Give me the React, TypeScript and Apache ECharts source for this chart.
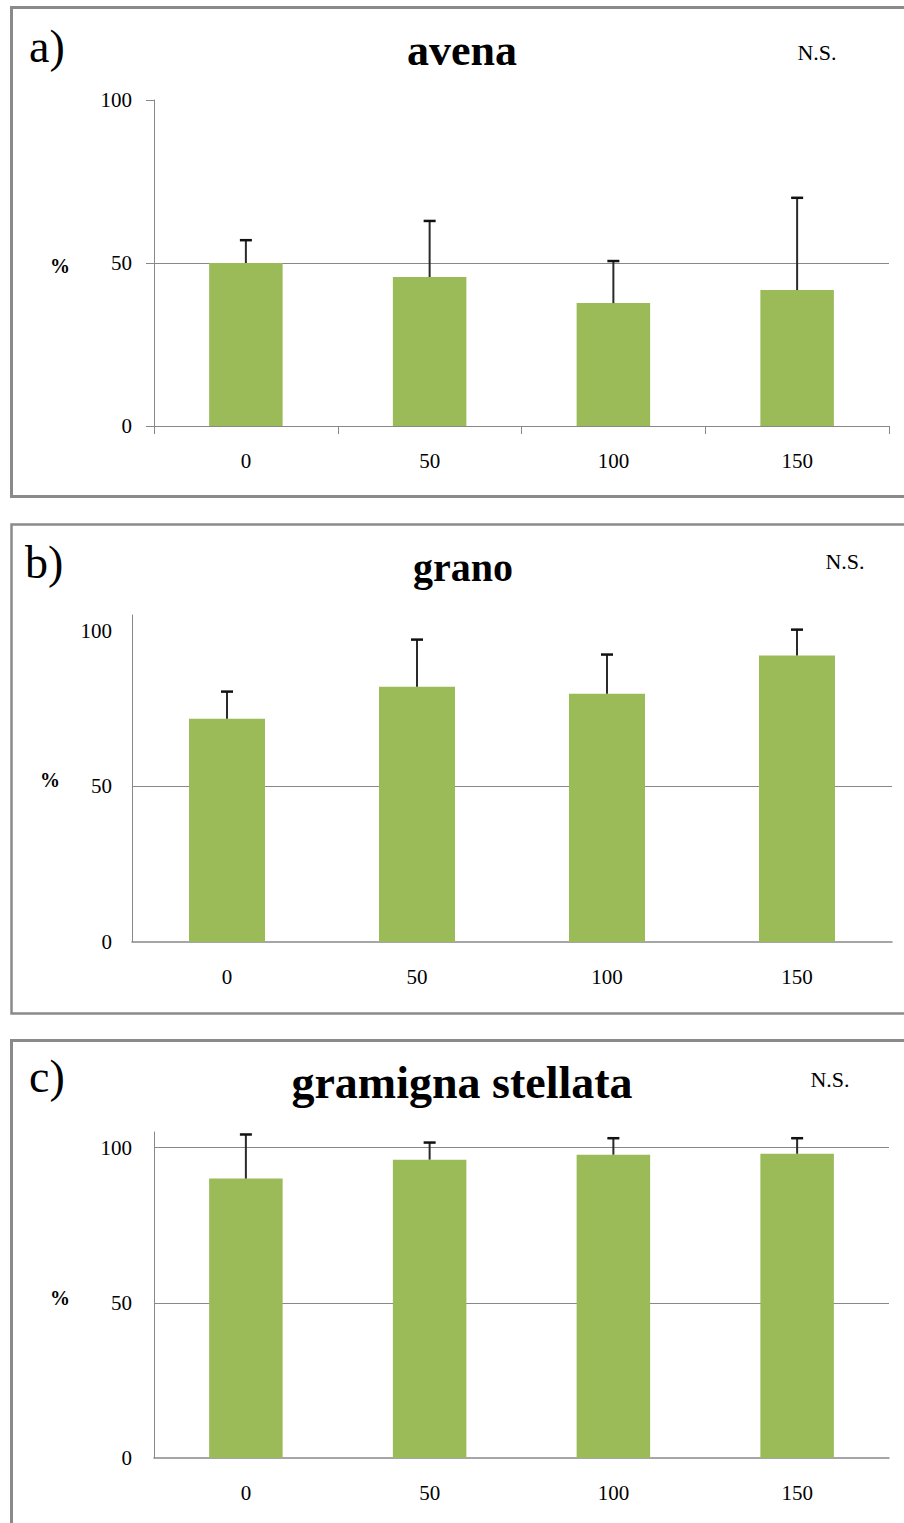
import React, { useEffect, useRef } from "react";
import * as echarts from "echarts";

const categories = ["0", "50", "100", "150"];
const avenaMean = [50, 45.7, 37.7, 41.7];
const avenaErrTop = [57, 62.9, 50.6, 70];
const granoMean = [71.7, 82, 79.7, 92];
const granoErrTop = [80.4, 97.1, 92.3, 100.3];
const gramignaMean = [90, 96.1, 97.7, 98];
const gramignaErrTop = [104.2, 101.6, 103, 103];
const titles = ["avena", "grano", "gramigna stellata"];
const panelLetters = ["a)", "b)", "c)"];
const significance = ["N.S.", "N.S.", "N.S."];

const SERIF = "'Liberation Serif', 'Times New Roman', serif";
const AXIS = "#888888";
const BAR = "#9bbb59";

function errSeries(idx: number, mean: number[], top: number[]) {
  return {
    type: "custom",
    xAxisIndex: idx,
    yAxisIndex: idx,
    z: 5,
    encode: { x: 0, y: [1, 2] },
    data: mean.map((m, i) => [i, m, top[i]]),
    renderItem: (params: any, api: any) => {
      const t = api.coord([api.value(0), api.value(2)]);
      const b = api.coord([api.value(0), api.value(1)]);
      const hw = 6;
      return {
        type: "group",
        children: [
          { type: "line", shape: { x1: b[0], y1: b[1], x2: t[0], y2: t[1] }, style: { stroke: "#2a2a2a", lineWidth: 2 } },
          { type: "line", shape: { x1: t[0] - hw, y1: t[1], x2: t[0] + hw, y2: t[1] }, style: { stroke: "#111", lineWidth: 2.5 } },
        ],
      };
    },
  };
}

function barSeries(idx: number, mean: number[], lines: number[]) {
  return {
    type: "bar",
    xAxisIndex: idx,
    yAxisIndex: idx,
    barWidth: "40%",
    z: 2,
    itemStyle: { color: BAR },
    data: mean,
    markLine: {
      silent: true,
      symbol: "none",
      z: 1,
      label: { show: false },
      lineStyle: { color: AXIS, type: "solid", width: 1.2 },
      data: lines.map((v) => ({ yAxis: v })),
    },
  };
}

export default function App() {
  const ref = useRef<HTMLDivElement>(null);
  useEffect(() => {
    const chart = echarts.init(ref.current!, undefined, { renderer: "svg" });
    const grids = [
      { left: 154, right: 15, top: 100, height: 326 },
      { left: 132, right: 12, top: 615, height: 327 },
      { left: 154, right: 15, top: 1132, height: 326 },
    ];
    const maxes = [100, 105, 105];
    const ticksShown = [true, false, false];
    const labelMargins = [22, 20, 22];
    const option: any = {
      animation: false,
      backgroundColor: "#ffffff",
      grid: grids.map((g) => ({ ...g, containLabel: false, outerBoundsMode: "none" })),
      xAxis: grids.map((_, i) => ({
        type: "category",
        gridIndex: i,
        data: categories,
        axisLine: { show: true, lineStyle: { color: AXIS, width: i === 0 ? 1 : 1.5 } },
        axisTick: { show: ticksShown[i], length: 8, lineStyle: { color: AXIS } },
        axisLabel: { fontFamily: SERIF, fontSize: 21, color: "#000", margin: 24 },
        splitLine: { show: false },
      })),
      yAxis: grids.map((_, i) => ({
        type: "value",
        gridIndex: i,
        min: 0,
        max: maxes[i],
        interval: 50,
        axisLine: { show: true, lineStyle: { color: AXIS, width: 1 } },
        axisTick: { show: ticksShown[i], length: 8, lineStyle: { color: AXIS } },
        axisLabel: {
          fontFamily: SERIF,
          fontSize: 21,
          color: "#000",
          margin: labelMargins[i],
          formatter: (v: number) => (v % 50 === 0 && v <= 100 ? String(v) : ""),
        },
        splitLine: { show: false },
      })),
      series: [
        barSeries(0, avenaMean, [50]),
        errSeries(0, avenaMean, avenaErrTop),
        barSeries(1, granoMean, [50]),
        errSeries(1, granoMean, granoErrTop),
        barSeries(2, gramignaMean, [50, 100]),
        errSeries(2, gramignaMean, gramignaErrTop),
      ],
      graphic: [
        { type: "rect", z: 0, shape: { x: 11.5, y: 7.5, width: 910, height: 489 }, style: { fill: "none", stroke: "#8a8a8a", lineWidth: 3 } },
        { type: "rect", z: 0, shape: { x: 11.5, y: 524.5, width: 910, height: 489 }, style: { fill: "none", stroke: "#8a8a8a", lineWidth: 2.5 } },
        { type: "rect", z: 0, shape: { x: 11.5, y: 1040.5, width: 910, height: 520 }, style: { fill: "none", stroke: "#8a8a8a", lineWidth: 3 } },
        { type: "text", x: 462, y: 50, style: { text: titles[0], font: `bold 44px ${SERIF}`, fill: "#000", align: "center", verticalAlign: "middle" } },
        { type: "text", x: 463, y: 567, style: { text: titles[1], font: `bold 40px ${SERIF}`, fill: "#000", align: "center", verticalAlign: "middle" } },
        { type: "text", x: 462, y: 1082, style: { text: titles[2], font: `bold 46px ${SERIF}`, fill: "#000", align: "center", verticalAlign: "middle" } },
        { type: "text", x: 29, y: 46, style: { text: panelLetters[0], font: `46px ${SERIF}`, fill: "#000", align: "left", verticalAlign: "middle" } },
        { type: "text", x: 25, y: 562, style: { text: panelLetters[1], font: `46px ${SERIF}`, fill: "#000", align: "left", verticalAlign: "middle" } },
        { type: "text", x: 29, y: 1076, style: { text: panelLetters[2], font: `46px ${SERIF}`, fill: "#000", align: "left", verticalAlign: "middle" } },
        { type: "text", x: 817, y: 52, style: { text: significance[0], font: `22px ${SERIF}`, fill: "#000", align: "center", verticalAlign: "middle" } },
        { type: "text", x: 845, y: 561, style: { text: significance[1], font: `22px ${SERIF}`, fill: "#000", align: "center", verticalAlign: "middle" } },
        { type: "text", x: 830, y: 1079, style: { text: significance[2], font: `22px ${SERIF}`, fill: "#000", align: "center", verticalAlign: "middle" } },
        { type: "text", x: 60, y: 266, style: { text: "%", font: `bold 20px ${SERIF}`, fill: "#000", align: "center", verticalAlign: "middle" } },
        { type: "text", x: 50, y: 780, style: { text: "%", font: `bold 20px ${SERIF}`, fill: "#000", align: "center", verticalAlign: "middle" } },
        { type: "text", x: 60, y: 1298, style: { text: "%", font: `bold 20px ${SERIF}`, fill: "#000", align: "center", verticalAlign: "middle" } },
      ],
    };
    chart.setOption(option);
    return () => chart.dispose();
  }, []);
  return (
    <div
      ref={ref}
      style={{ position: "absolute", left: 0, top: 0, width: 904, height: 1523, background: "#fff" }}
    />
  );
}
